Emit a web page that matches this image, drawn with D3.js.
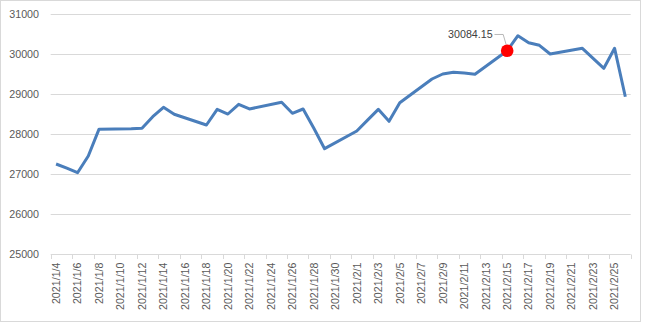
<!DOCTYPE html>
<html>
<head>
<meta charset="utf-8">
<script src="https://cdn.jsdelivr.net/npm/d3@7"></script>
<style>
  html, body { margin: 0; padding: 0; background: #fff; }
  svg text { font-family: "Liberation Sans", Arial, sans-serif; }
</style>
</head>
<body>
<div id="chart"></div>
<script>
// ─── Data ─────────────────────────────────────────────────────
const dates = [
  "2021/1/4", "2021/1/5", "2021/1/6", "2021/1/7", "2021/1/8",
  "2021/1/11", "2021/1/12", "2021/1/13", "2021/1/14", "2021/1/15",
  "2021/1/18", "2021/1/19", "2021/1/20", "2021/1/21", "2021/1/22",
  "2021/1/25", "2021/1/26", "2021/1/27", "2021/1/28", "2021/1/29",
  "2021/2/1", "2021/2/2", "2021/2/3", "2021/2/4", "2021/2/5",
  "2021/2/8", "2021/2/9", "2021/2/10", "2021/2/11", "2021/2/12",
  "2021/2/15", "2021/2/16", "2021/2/17", "2021/2/18", "2021/2/19",
  "2021/2/22", "2021/2/23", "2021/2/24", "2021/2/25", "2021/2/26"
];
const values = [
  27255, 27150, 27037, 27455, 28125,
  28135, 28145, 28436, 28670, 28496,
  28228, 28620, 28503, 28745, 28628,
  28795, 28520, 28628, 28146, 27637,
  28079, 28350, 28620, 28321, 28785,
  29377, 29502, 29544, 29525, 29494,
  30084.15, 30458, 30283, 30218, 30001,
  30143, 29890, 29644, 30143, 28935
];
const yTicks = [25000, 26000, 27000, 28000, 29000, 30000, 31000];
const highlightDate = "2021/2/15";

// ─── Dimensions ───────────────────────────────────────────────
const W = 646, H = 323;
const parse = d3.timeParse("%Y/%-m/%-d");
const fmt = d3.timeFormat("%Y/%-m/%-d");
const start = parse("2021/1/4");
const end = d3.timeDay.offset(parse("2021/2/26"), 1);
const mid = d => d3.timeHour.offset(d, 12);   // points sit in the middle of each day slot

const data = dates.map((d, i) => ({ date: parse(d), label: d, value: values[i] }));

const svg = d3.select("#chart").append("svg")
  .attr("width", W).attr("height", H);

// chart area border
svg.append("rect")
  .attr("x", 0.5).attr("y", 0.5)
  .attr("width", 640).attr("height", 321)
  .attr("fill", "#fff").attr("stroke", "#d9d9d9");

// ─── Scales ───────────────────────────────────────────────────
const x = d3.scaleTime().domain([start, end]).range([50.7, 630.7]);
const y = d3.scaleLinear().domain([25000, 31000]).range([254.3, 14]);

// ─── Gridlines & y labels ─────────────────────────────────────
svg.append("g")
  .selectAll("line")
  .data(yTicks)
  .join("line")
  .attr("x1", x.range()[0]).attr("x2", x.range()[1])
  .attr("y1", d => Math.round(y(d)) + 0.5)
  .attr("y2", d => Math.round(y(d)) + 0.5)
  .attr("stroke", "#d9d9d9");

svg.append("g")
  .selectAll("text")
  .data(yTicks)
  .join("text")
  .attr("x", 39)
  .attr("y", d => y(d) + 4)
  .attr("text-anchor", "end")
  .attr("font-size", "10.7px")
  .attr("fill", "#595959")
  .text(d => d);

// ─── X axis ───────────────────────────────────────────────────
const tickDates = d3.timeDay.range(start, d3.timeDay.offset(end, 1), 2);
svg.append("g")
  .selectAll("line")
  .data(tickDates)
  .join("line")
  .attr("x1", d => Math.round(x(d)) + 0.5)
  .attr("x2", d => Math.round(x(d)) + 0.5)
  .attr("y1", 254.5).attr("y2", 259)
  .attr("stroke", "#d9d9d9");

const labelDates = d3.timeDay.range(start, end, 2);
svg.append("g")
  .selectAll("text")
  .data(labelDates)
  .join("text")
  .attr("transform", d => `translate(${x(mid(d)) + 3.8},262.5) rotate(-90)`)
  .attr("text-anchor", "end")
  .attr("font-size", "10.7px")
  .attr("fill", "#595959")
  .text(d => fmt(d));

// ─── Line ─────────────────────────────────────────────────────
const line = d3.line()
  .x(d => x(mid(d.date)))
  .y(d => y(d.value));

svg.append("path")
  .datum(data)
  .attr("d", line)
  .attr("fill", "none")
  .attr("stroke", "#4a7ebb")
  .attr("stroke-width", 3)
  .attr("stroke-linejoin", "round");

// ─── Highlighted point & label ────────────────────────────────
const hp = data.find(d => d.label === highlightDate);
const px = x(mid(hp.date)), py = y(hp.value);

svg.append("polyline")
  .attr("points", `${px - 12.7},${py - 16.2} ${px - 4},${py - 16.2} ${px - 1},${py - 6}`)
  .attr("fill", "none")
  .attr("stroke", "#a6a6a6")
  .attr("stroke-width", 0.8);

svg.append("circle")
  .attr("cx", px).attr("cy", py)
  .attr("r", 6.3)
  .attr("fill", "#ff0000");

svg.append("text")
  .attr("x", px - 14.5)
  .attr("y", py - 12.7)
  .attr("text-anchor", "end")
  .attr("font-size", "10.7px")
  .attr("fill", "#404040")
  .text(d3.format(".2f")(hp.value));
</script>
</body>
</html>
